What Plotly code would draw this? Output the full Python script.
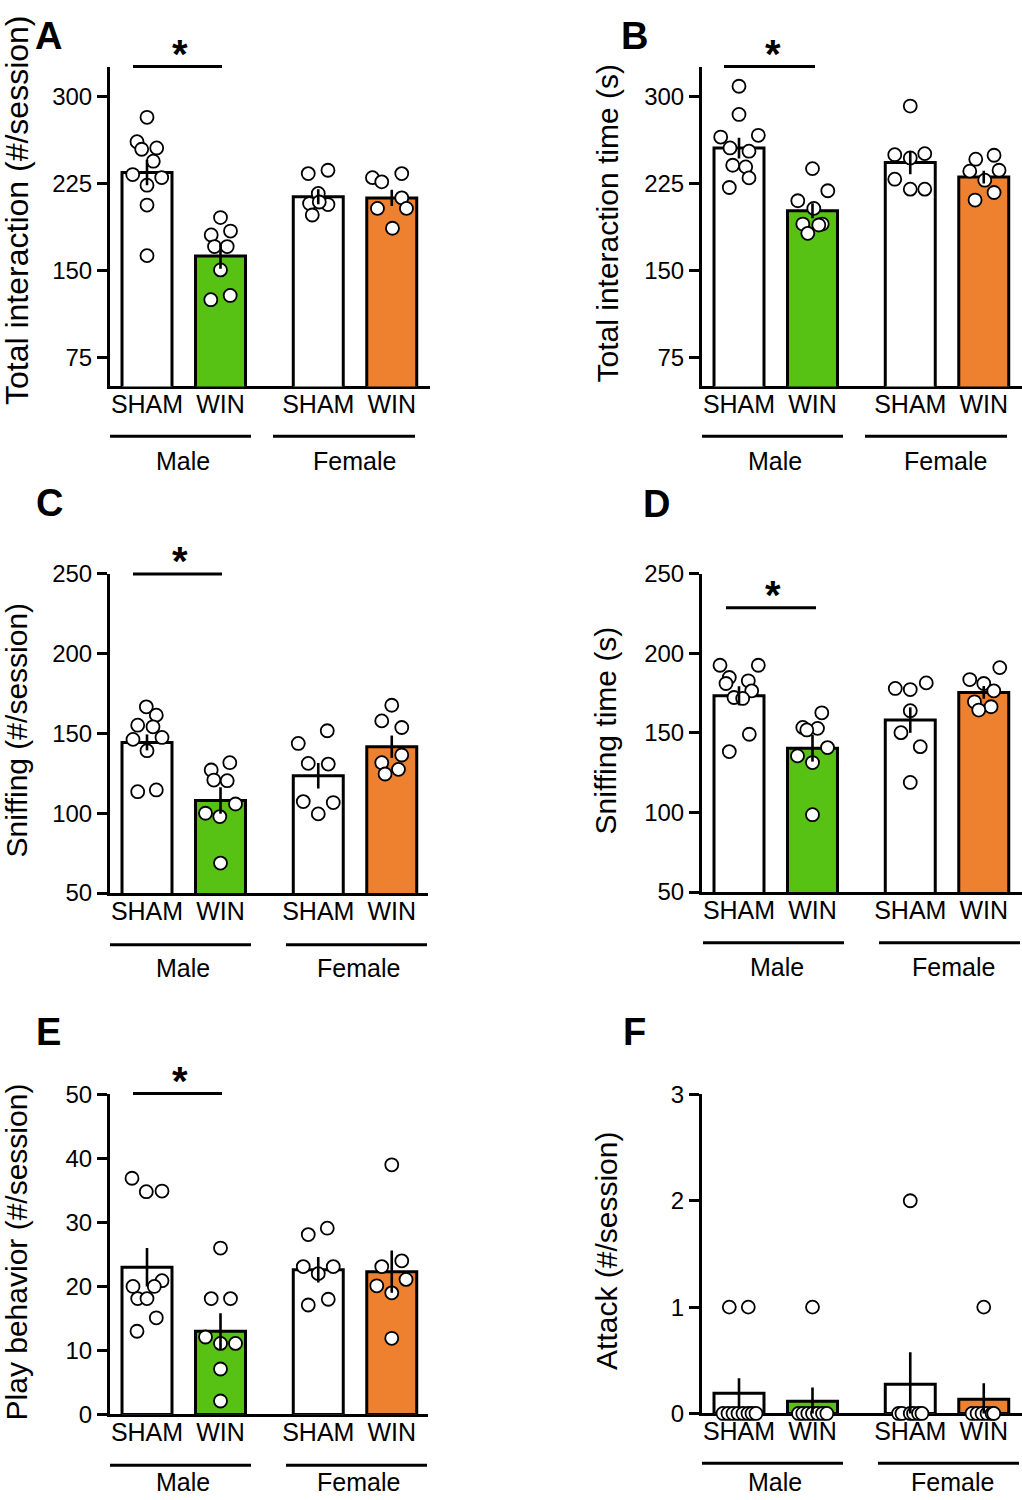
import plotly.graph_objects as go

W, H = 1022, 1500
FONT = "Liberation Sans, Arial, Helvetica, sans-serif"
GREEN = "#57C114"
ORANGE = "#EE8130"

# ---------------- data ----------------
tick_labels = ["SHAM", "WIN", "SHAM", "WIN"]
group_labels = ["Male", "Female"]
bar_colors = ["white", GREEN, "white", ORANGE]

# Panel A: Total interaction (#/session)
A_means = [234.5, 162.5, 213.5, 212.5]
A_sem = [11, 11, 6.5, 7]
A_pts = [
    [282, 261, 254.5, 255.6, 244.2, 232.7, 230.1, 223.5, 206.4, 162.8],
    [195.6, 180.6, 184, 170.6, 170.6, 150.5, 124.8, 128.5],
    [233.5, 236.4, 216.4, 207.7, 206.8, 197.8, 209],
    [230, 226.4, 233.5, 212.6, 203.5, 203.5, 186.4],
]
A_jit = [
    [0, -10, -5.3, 9.7, 6.3, -14.3, 14.7, 0, 0, 0],
    [0, -9.3, 10, -6, 6.7, 0, -9.7, 9.7],
    [-10, 9.7, 0, -8.7, 9.7, -6, 1],
    [-19.3, -10, 10, 10, -14.3, 14.7, 0.7],
]

# Panel B: Total interaction time (s)
B_means = [255.5, 201.5, 243, 230.5]
B_sem = [9, 6.5, 10, 5.5]
B_pts = [
    [308.8, 284.5, 265, 266.5, 255.6, 252.8, 240.7, 239.3, 229.8, 221.5],
    [237.8, 218.7, 210.1, 203.5, 190, 190, 182, 189.2],
    [291.7, 249.8, 247, 250.7, 228.7, 220.1, 220.1],
    [245.9, 249.3, 235.6, 236.4, 227.8, 210.7, 217.2],
]
B_jit = [
    [0, 0, -18.3, 19.3, -9, 10, -6.3, 6.7, 10, -9.7],
    [0, 15.3, -14.7, 1.3, -9.7, 9.7, -4.7, 6.3],
    [0, -15.5, 0, 14.5, -15.5, 0, 14.5],
    [-8, 10.3, -14, 15.3, 1, -8.7, 10.3],
]

# Panel C: Sniffing (#/session)
C_means = [144.4, 108, 123.5, 141.7]
C_sem = [5, 8.3, 8, 7]
C_pts = [
    [166.7, 161.5, 155.2, 154.2, 146.3, 147.5, 139.2, 113.5, 114.6],
    [127.1, 131.7, 120.8, 120.4, 105.8, 100, 97.9, 68.75],
    [143.75, 151.7, 131.25, 130.8, 107.3, 106.7, 99.6],
    [167.7, 157.9, 153.75, 131.7, 136.5, 124.6, 127.5],
]
C_jit = [
    [-0.7, 9.3, -9.3, 6, -14, 15, 0, -9.3, 9.3],
    [-9.3, 9.3, -6.7, 6.7, 15, -15, -0.7, 0],
    [-20, 9, -10, 10, -15, 15, 0],
    [0, -10, 10, -10, 10, -6.7, 6.7],
]

# Panel D: Sniffing time (s)
D_means = [173.4, 140.4, 158.1, 175.5]
D_sem = [6, 8.4, 8, 4]
D_pts = [
    [192.6, 192.6, 184.9, 181.1, 182.8, 176.5, 172.3, 171.7, 149.2, 138.3],
    [162.7, 153.5, 152.9, 151.9, 140.8, 135.6, 131.4, 98.6],
    [178, 177.3, 181.5, 164, 150.2, 141.4, 118.9],
    [191.1, 183.6, 181.1, 176.5, 169.6, 166.5, 164.4],
]
D_jit = [
    [-19, 19.3, -9.7, -13, 9.3, 12.7, -5, 3.7, 10.3, -9.7],
    [9.3, -9.7, 5, -5.7, 15, -15, 0, 0],
    [-15, 0, 16, 0, -9.3, 10, 0],
    [16, -14, 0, 10, -9.3, 7.3, -5],
]

# Panel E: Play behavior (#/session)
E_means = [23, 13, 22.6, 22.3]
E_sem = [3, 2.8, 2, 3.3]
E_pts = [
    [36.9, 34.8, 34.9, 20, 20.9, 20, 18.1, 18.1, 15.1, 13],
    [26, 18.1, 18.1, 12.1, 11.1, 11.1, 7.1, 2.1],
    [28.1, 29.1, 23.1, 23.1, 22, 18, 17.1],
    [39, 23.1, 24, 20.1, 21.1, 19, 11.9],
]
E_jit = [
    [-15, -0.7, 15, -14, 15, 7.3, -9.3, 0, 9.3, -10],
    [0, -9.3, 10, -15, 15, 0, 0, 0],
    [-10, 9, -15, 15, 0, 10, -10],
    [0, -10, 10, -15, 14.3, 0, 0],
]

# Panel F: Attack (#/session)
F_means = [0.19, 0.115, 0.275, 0.134]
F_sem = [0.14, 0.13, 0.3, 0.15]
F_pts = [
    [1, 1, 0, 0, 0, 0, 0, 0, 0, 0],
    [1, 0, 0, 0, 0, 0, 0, 0],
    [2, 0, 0, 0, 0, 0, 0],
    [1, 0, 0, 0, 0, 0, 0],
]
F_jit = [
    [-9.7, 9.3, -16, -11, -6, -1, 4, 9, 13, 17],
    [0, -14, -9.7, -4.7, 0, 5, 10, 14.3],
    [0, -11.7, -8.3, 0, 3.3, 8.3, 11.7],
    [0, -11.7, -6.7, -1.7, 3.3, 8.3, 10],
]

y_titles = ["Total interaction (#/session)", "Total interaction time (s)",
            "Sniffing (#/session)", "Sniffing time (s)",
            "Play behavior (#/session)", "Attack (#/session)"]
y_ticks = [[75, 150, 225, 300], [75, 150, 225, 300], [50, 100, 150, 200, 250],
           [50, 100, 150, 200, 250], [0, 10, 20, 30, 40, 50], [0, 1, 2, 3]]
y_ranges = [[50, 325], [50, 325], [50, 250], [50, 250], [0, 50], [0, 3]]
letters = ["A", "B", "C", "D", "E", "F"]

means = [A_means, B_means, C_means, D_means, E_means, F_means]
sems = [A_sem, B_sem, C_sem, D_sem, E_sem, F_sem]
pts = [A_pts, B_pts, C_pts, D_pts, E_pts, F_pts]
jits = [A_jit, B_jit, C_jit, D_jit, E_jit, F_jit]
significant = [True, True, True, True, True, False]

# ---------------- layout geometry (pixels) ----------------
x_pos = [0, 1, 2.33, 3.33]
PXU = 73.5  # pixels per x unit
BAR_W = 0.68

# (x0, x1, ytop, ybottom) of plotting area in pixels
boxes = [(110, 430, 65, 385), (702, 1022, 65, 385),
         (110, 428, 573, 893), (702, 1022, 573, 892),
         (110, 428, 1095, 1416), (702, 1022, 1095, 1415)]
title_pos = [(17, 208, 32), (607, 221.5, 30), (16, 730, 30), (605, 730, 30),
             (16, 1253.5, 30), (607, 1252, 30)]
# None -> pinned to the very top of the figure
letter_pos = [(48, None), (634, None), (49, 502), (656, 503), (48, 1032), (634, 1032)]
group_line_y = [435, 435, 945, 943, 1467, 1465]
group_lines = [[(110, 251), (273, 415)], [(702, 843), (865, 1007)],
               [(110, 251), (286, 427)], [(703, 844), (879, 1020)],
               [(110, 251), (286, 427)], [(702, 843), (878, 1019)]]
group_text = [[(183, 460), (354, 460)], [(775, 460), (945, 460)],
              [(183, 968), (358, 968)], [(777, 967), (953, 967)],
              [(183, 1484), (358, 1484)], [(775, 1484), (952, 1484)]]
sig = [((133, 222), 64, (180, 48)), ((724, 815), 64, (773, 48)),
       ((133, 222), 573, (180, 556)), ((726, 816), 607, (773, 590)),
       ((133, 222), 1094, (180, 1078)), None]

# the rendered page is photographed with a small vertical offset/compression;
# compensate so that target pixel rows land where intended
Y_OFF, Y_SCALE = 11.4, 0.9849


def px(x):
    return x / W


def py(y):
    return 1 - ((y - Y_OFF) / Y_SCALE) / H


fig = go.Figure()
layout = dict(width=W, height=H, margin=dict(l=0, r=0, t=0, b=0),
              paper_bgcolor="white", plot_bgcolor="white", showlegend=False,
              font=dict(family=FONT, color="black"))
shapes, annotations = [], []

for k in range(6):
    sfx = "" if k == 0 else str(k + 1)
    xa, ya = "x" + sfx, "y" + sfx
    x0, x1, yt, yb = boxes[k]
    xr0 = -37 / PXU  # axis starts 37 px left of first bar centre
    xr = [xr0, xr0 + (x1 - x0) / PXU]

    fig.add_trace(go.Bar(x=x_pos, y=means[k], width=BAR_W, xaxis=xa, yaxis=ya,
                         marker=dict(color=bar_colors, line=dict(color="black", width=3)),
                         hoverinfo="skip"))
    for g in range(4):
        xs = [x_pos[g] + j / PXU for j in jits[k][g]]
        fig.add_trace(go.Scatter(x=xs, y=pts[k][g], mode="markers", xaxis=xa, yaxis=ya,
                                 cliponaxis=False,
                                 marker=dict(size=13, color="white",
                                             line=dict(color="black", width=1.8)),
                                 hoverinfo="skip"))
    fig.add_trace(go.Scatter(x=x_pos, y=means[k], mode="markers", xaxis=xa, yaxis=ya,
                             marker=dict(size=1, color="rgba(0,0,0,0)"),
                             error_y=dict(type="data", array=sems[k], width=0,
                                          thickness=2.6, color="black"),
                             hoverinfo="skip"))

    layout["xaxis" + sfx] = dict(domain=[px(x0), px(x1)], anchor=ya, range=xr,
                                 showline=True, linecolor="black", linewidth=3,
                                 ticks="", tickvals=x_pos, ticktext=tick_labels,
                                 ticklabelstandoff=-6,
                                 tickfont=dict(size=25, family=FONT, color="black"),
                                 showgrid=False, zeroline=False, fixedrange=True,
                                 layer="below traces")
    layout["yaxis" + sfx] = dict(domain=[py(yb), py(yt)], anchor=xa, range=y_ranges[k],
                                 showline=True, linecolor="black", linewidth=3,
                                 ticks="outside", ticklen=10, tickwidth=2.6,
                                 tickcolor="black", tickvals=y_ticks[k],
                                 tickfont=dict(size=24, family=FONT, color="black"),
                                 showgrid=False, zeroline=False, fixedrange=True,
                                 layer="below traces")

    tx, ty, ts = title_pos[k]
    annotations.append(dict(text=y_titles[k], x=px(tx), y=py(ty), xref="paper",
                            yref="paper", textangle=-90, showarrow=False,
                            xanchor="center", yanchor="middle",
                            font=dict(size=ts, family=FONT, color="black")))
    lx, ly = letter_pos[k]
    if ly is None:
        ly_paper, yanc = 1.0, "top"
    else:
        ly_paper, yanc = py(ly), "middle"
    annotations.append(dict(text="<b>%s</b>" % letters[k], x=px(lx), y=ly_paper,
                            xref="paper", yref="paper", showarrow=False,
                            xanchor="center", yanchor=yanc, borderpad=0,
                            font=dict(size=38, family=FONT, color="black")))
    for gi in range(2):
        gx0, gx1 = group_lines[k][gi]
        shapes.append(dict(type="line", xref="paper", yref="paper",
                           x0=px(gx0), x1=px(gx1), y0=py(group_line_y[k]),
                           y1=py(group_line_y[k]), line=dict(color="black", width=3)))
        gtx, gty = group_text[k][gi]
        annotations.append(dict(text=group_labels[gi], x=px(gtx), y=py(gty),
                                xref="paper", yref="paper", showarrow=False,
                                xanchor="center", yanchor="middle",
                                font=dict(size=25, family=FONT, color="black")))
    if significant[k]:
        (sx0, sx1), sy, (stx, sty) = sig[k]
        shapes.append(dict(type="line", xref="paper", yref="paper",
                           x0=px(sx0), x1=px(sx1), y0=py(sy), y1=py(sy),
                           line=dict(color="black", width=3)))
        annotations.append(dict(text="<b>*</b>", x=px(stx), y=py(sty + 4),
                                xref="paper", yref="paper", showarrow=False,
                                xanchor="center", yanchor="middle",
                                font=dict(size=40, family=FONT, color="black")))

layout["shapes"] = shapes
layout["annotations"] = annotations
fig.update_layout(**layout)
fig.write_html("out.html", post_script="document.body.style.margin='0';",
               config={"displayModeBar": False})
